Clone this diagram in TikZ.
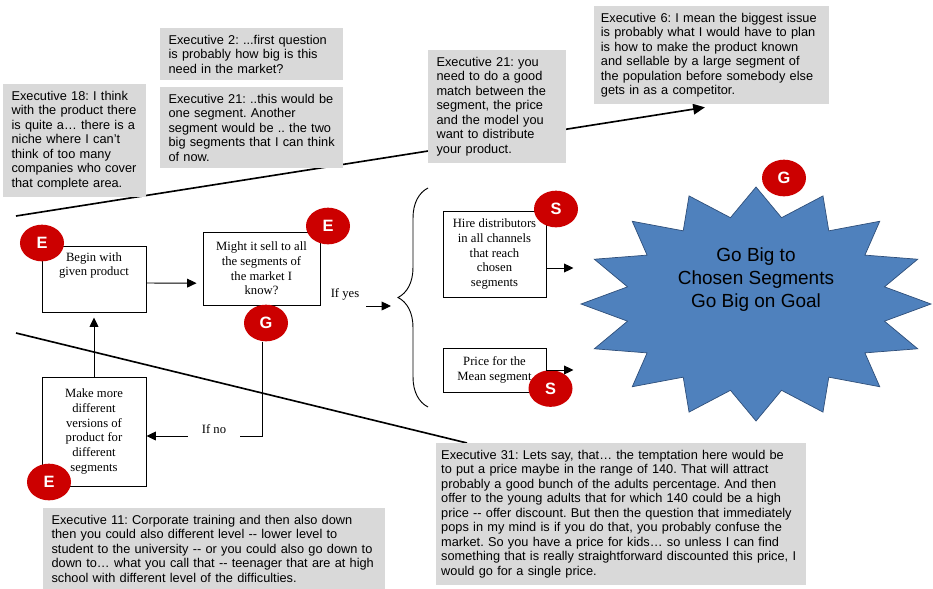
\documentclass[tikz,border=0pt]{standalone}
\usepackage{fontspec}
\setmainfont{Liberation Serif}
\setsansfont{Liberation Sans}
\usetikzlibrary{arrows.meta,positioning,shapes.geometric,decorations.pathreplacing}
\pgfdeclarelayer{background}
\pgfsetlayers{background,main}
\definecolor{notegray}{HTML}{D9D9D9}
\definecolor{badgered}{HTML}{CC0000}
\definecolor{burstblue}{HTML}{4F81BD}
\definecolor{burstedge}{HTML}{2F4F7A}
\frenchspacing
\hyphenpenalty=10000

\begin{document}
\begin{tikzpicture}[x=0.03cm, y=-0.03cm, >={Triangle[length=8pt,width=7.5pt]},
    note/.style={fill=notegray, anchor=north west, align=left, inner xsep=0.25cm, inner ysep=0.2cm,
                 font=\sffamily\fontsize{10.9}{12.4}\selectfont},
    flow box/.style={draw, line width=0.8pt, align=center, inner sep=0pt,
                     font=\fontsize{10.8}{12.6}\selectfont},
    lbl/.style={inner sep=0pt, font=\fontsize{10.8}{12.6}\selectfont},
    badge/.style={ellipse, fill=badgered, text=white, minimum width=1.32cm, minimum height=1.1cm,
                  inner sep=0pt, font=\sffamily\bfseries\fontsize{14}{14}\selectfont},
    burst/.style={fill=burstblue, draw=burstedge, line width=0.6pt},
    long line/.style={line width=1.4pt},
    arr/.style={->, line width=0.8pt}]

  \useasboundingbox (0,0) rectangle (933,588);

  % quotes
  \node[note, text width=3.79cm] (exec18) at (3,84) {Executive 18: I think\\with the product there\\is quite a… there is a\\niche where I can’t\\think of too many\\companies who cover\\that complete area.};
  \node[note, text width=4.99cm] (exec2) at (160,28) {Executive 2: ...first question\\is probably how big is this\\need in the market?};
  \node[note, text width=4.99cm, below=0.2cm of exec2] (exec21a) {Executive 21: ..this would be\\one segment. Another\\segment would be .. the two\\big segments that I can think\\of now.};
  \node[note, text width=3.64cm] (exec21b) at (428,50) {Executive 21: you\\need to do a good\\match between the\\segment, the price\\and the model you\\want to distribute\\your product.};
  \node[note, text width=6.64cm, inner xsep=0.2cm] (exec6) at (594,6) {Executive 6: I mean the biggest issue\\is probably what I would have to plan\\is how to make the product known\\and sellable by a large segment of\\the population before somebody else\\gets in as a competitor.};
  \node[note, text width=9.76cm] (exec11) at (43,508) {Executive 11: Corporate training and then also down\\then you could also different level -{}- lower level to\\student to the university -{}- or you could also go down to\\down to… what you call that -{}- teenager that are at high\\school with different level of the difficulties.};
  \node[note, text width=10.8cm, inner xsep=0.15cm] (exec31) at (436,443) {Executive 31: Lets say, that… the temptation here would be\\to put a price maybe in the range of 140. That will attract\\probably a good bunch of the adults percentage. And then\\offer to the young adults that for which 140 could be a high\\price -{}- offer discount. But then the question that immediately\\pops in my mind is if you do that, you probably confuse the\\market. So you have a price for kids… so unless I can find\\something that is really straightforward discounted this price, I\\would go for a single price.};

  % flow chart
  \node[flow box, minimum width=3.12cm, minimum height=1.98cm] (begin) at (94,279) {\parbox[t][1.6cm][t]{3cm}{\centering Begin with\\given product}};
  \node[flow box, minimum width=3.51cm, minimum height=2.19cm] (might) at (261.5,268.5) {Might it sell to all\\the segments of\\the market I\\know?};
  \node[flow box, minimum width=3.12cm, minimum height=3.27cm] (make) at (94,431.5) {\parbox[t][2.9cm][c]{3cm}{\centering Make more\\different\\versions of\\product for\\different\\segments}};
  \node[flow box, minimum width=3.09cm, minimum height=2.58cm] (hire) at (494.5,254) {Hire distributors\\in all channels\\that reach\\chosen\\segments};
  \node[flow box, minimum width=3.09cm, minimum height=1.32cm] (price) at (494.5,370) {Price for the\\Mean segment};

  \node[lbl] (ifyes) at (345,294) {If yes};
  \node[lbl, inner xsep=0.42cm] (ifno) at (214,429) {If no};

  % the goal
  \begin{scope}[shift={(756,304)}]
    \filldraw[burst] (0:175 and 117) \foreach \k in {0,...,15} {
      -- ({\k*22.5+11.25}:131 and 88) -- ({\k*22.5+22.5}:175 and 117) } -- cycle;
  \end{scope}
  \node[align=center, font=\sffamily\fontsize{16.2}{19.6}\selectfont] (goal) at (756,280) {Go Big to\\Chosen Segments\\Go Big on Goal};

  \node[badge] (e begin) at (42,243) {E};
  \node[badge] (e might) at (328,226) {E};
  \node[badge] (g might) at (266,323) {G};
  \node[badge] (e make) at (49,482) {E};
  \node[badge] (s hire) at (556,209) {S};
  \node[badge] (s price) at (550.5,388.5) {S};
  \node[badge] (g goal) at (784,178) {G};

  % connectors
  \draw[arr] ([yshift=-0.12cm]begin.east) -- ([xshift=-0.18cm,yshift=-0.44cm]might.west);
  \draw[arr] (make.north) -- ([yshift=-0.15cm]begin.south);
  \coordinate (no corner) at ([yshift=-0.21cm]ifno.east);
  \coordinate (no tail) at ([yshift=-0.21cm]ifno.west);
  \draw[line width=0.8pt] ([xshift=-0.12cm]g might.south) |- (no corner);
  \draw[arr] (no tail) -- (no tail -| make.east);
  \coordinate (yes tail) at (366,306);
  \coordinate (brace tip) at (391,306);
  \draw[arr] (yes tail) -- (brace tip);
  \draw[decorate, decoration={brace, amplitude=0.9cm}, line width=0.8pt] (428,407) -- (428,188);
  \draw[arr] ([yshift=-0.42cm]hire.east) -- ++(27,0);
  \draw[arr] (price.east) -- ++(27,0);

  \coordinate (upper start) at (16,216);
  \coordinate (lower start) at (16,333);
  \begin{pgfonlayer}{background}
    \draw[long line, -{Triangle[length=10pt,width=9pt]}] (upper start) -- ([xshift=-0.2cm,yshift=-0.09cm]exec6.south);
    \draw[long line] (lower start) -- ([xshift=0.93cm]exec31.north west);
  \end{pgfonlayer}
\end{tikzpicture}
\end{document}
